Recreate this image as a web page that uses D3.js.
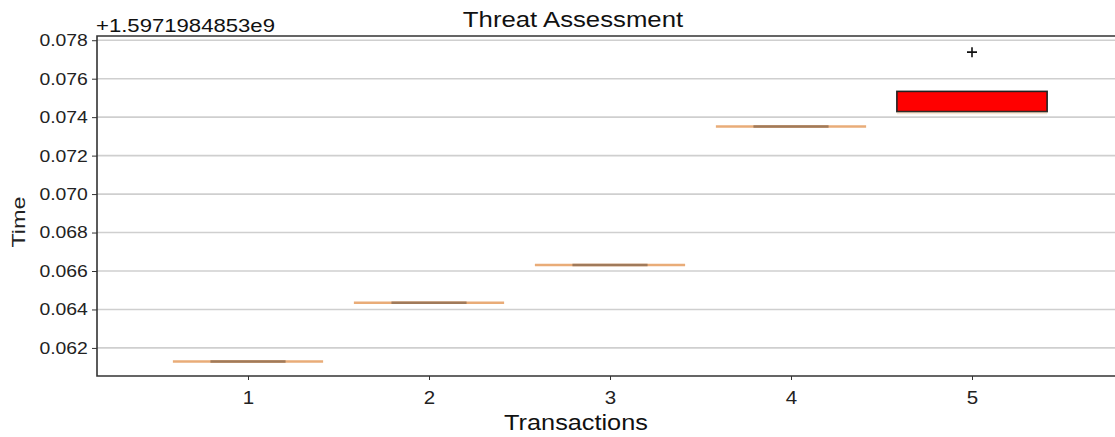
<!DOCTYPE html>
<meta charset="utf-8">
<style>
    body { margin: 0; background: #fff; }
    svg { display: block; font-family: "Liberation Sans", Arial, sans-serif; }
</style>
<body>
<div class="container"></div>
<script src="https://d3js.org/d3.v7.min.js"></script>
<script>

// values are shown relative to the offset, like matplotlib does
const offsetLabel = '+1.5971984853e9';
const transactions = [1, 2, 3, 4, 5];
const lowWhisker = [0.06130, 0.06435, 0.06631, 0.07351, 0.07429];
const q1 = [0.06130, 0.06435, 0.06631, 0.07351, 0.07429];
const median = [0.06130, 0.06435, 0.06631, 0.07351, 0.07429];
const q3 = [0.06130, 0.06435, 0.06631, 0.07351, 0.07534];
const highWhisker = [0.06130, 0.06435, 0.06631, 0.07351, 0.07534];
const outliers = [[], [], [], [], [0.07738]];
const yTicks = [0.062, 0.064, 0.066, 0.068, 0.070, 0.072, 0.074, 0.076, 0.078];

const width = 1115;
const height = 437;
const margin = { top: 36, right: 0, bottom: 61, left: 97 };

const svg = d3.select('.container')
    .append('svg')
    .attr('width', width)
    .attr('height', height);

// tick 1 sits at 248px, ticks 181px apart
const x = d3.scaleLinear()
    .domain([1 - (248 - margin.left) / 181, 1 + (width - 248) / 181])
    .range([margin.left, width]);

const y = d3.scaleLinear()
    .domain([0.06054, 0.07822])
    .range([height - margin.bottom, margin.top]);

const boxW = 0.83;

// the source picture is stretched sideways, so text gets an x-scale
const stretch = (sel, sx) => {
    sel.each(function() {
        const t = d3.select(this);
        const ax = +t.attr('x') || 0;
        t.attr('transform', `translate(${ax},0) scale(${sx},1) translate(${-ax},0)`);
    });
};

// grid
svg.append('g')
    .selectAll('line')
    .data(yTicks)
    .enter()
    .append('line')
    .attr('x1', margin.left)
    .attr('x2', width)
    .attr('y1', d => y(d))
    .attr('y2', d => y(d))
    .style('stroke', '#cfcfcf')
    .style('stroke-width', 1.6);

// axes
const yAxis = svg.append('g')
    .attr('transform', `translate(${margin.left},0)`)
    .call(d3.axisLeft(y).tickValues(yTicks).tickFormat(d3.format('.3f')).tickSize(5).tickPadding(3));
yAxis.select('.domain').remove();
yAxis.selectAll('line').style('stroke', '#333');
yAxis.selectAll('text').style('font-size', '17px').style('fill', '#222')
    .attr('transform', 'scale(1.14,1)');

const xAxis = svg.append('g')
    .attr('transform', `translate(0,${height - margin.bottom})`)
    .call(d3.axisBottom(x).tickValues(transactions).tickFormat(d3.format('d')).tickSize(4).tickPadding(11));
xAxis.select('.domain').remove();
xAxis.selectAll('line').style('stroke', '#333');
xAxis.selectAll('text').style('font-size', '18px').style('fill', '#222')
    .attr('transform', 'scale(1.14,1)');

// spines
svg.append('path')
    .attr('d', `M${width},${margin.top}H${margin.left}V${height - margin.bottom}H${width}`)
    .style('fill', 'none')
    .style('stroke', '#333')
    .style('stroke-width', 1.6);

// boxes
const boxes = svg.append('g')
    .selectAll('g')
    .data(transactions)
    .enter()
    .append('g');

boxes.append('rect')
    .attr('x', (d, i) => x(d - boxW / 2))
    .attr('width', (d, i) => x(d + boxW / 2) - x(d - boxW / 2))
    .attr('y', (d, i) => y(q3[i]))
    .attr('height', (d, i) => y(q1[i]) - y(q3[i]))
    .style('fill', (d, i) => q3[i] > q1[i] ? '#ff0000' : 'none')
    .style('stroke', '#222')
    .style('stroke-width', (d, i) => q3[i] > q1[i] ? 1.6 : 0);

// median line (full width, orange)
boxes.append('line')
    .attr('x1', (d, i) => x(d - boxW / 2))
    .attr('x2', (d, i) => x(d + boxW / 2))
    .attr('y1', (d, i) => y(median[i]) + (q3[i] > q1[i] ? 1.5 : 0))
    .attr('y2', (d, i) => y(median[i]) + (q3[i] > q1[i] ? 1.5 : 0))
    .style('stroke', '#e9ac78')
    .style('stroke-opacity', (d, i) => q3[i] > q1[i] ? 0.3 : 1)
    .style('stroke-width', 2.5);

// whisker caps (half width), overlapping the median where the box is flat
boxes.append('line')
    .attr('x1', (d, i) => x(d - boxW / 4))
    .attr('x2', (d, i) => x(d + boxW / 4))
    .attr('y1', (d, i) => y(lowWhisker[i]))
    .attr('y2', (d, i) => y(lowWhisker[i]))
    .style('stroke', '#a07a5a')
    .style('stroke-width', (d, i) => q3[i] > q1[i] ? 0 : 2.5);

// '+' fliers
boxes.selectAll('path.flier')
    .data((d, i) => outliers[i].map(v => ({ t: d, v: v })))
    .enter()
    .append('path')
    .attr('class', 'flier')
    .attr('transform', d => `translate(${x(d.t)},${y(d.v)})`)
    .attr('d', 'M-5,0H5M0,-5V5')
    .style('stroke', '#111')
    .style('stroke-width', 1.6);

// labels
svg.append('text')
    .attr('x', 573)
    .attr('y', 27)
    .attr('text-anchor', 'middle')
    .style('font-size', '22px')
    .style('fill', '#111')
    .text('Threat Assessment')
    .call(stretch, 1.17);

svg.append('text')
    .attr('x', 96)
    .attr('y', 32)
    .style('font-size', '18px')
    .style('fill', '#111')
    .text(offsetLabel)
    .call(stretch, 1.23);

svg.append('text')
    .attr('x', 576)
    .attr('y', 430)
    .attr('text-anchor', 'middle')
    .style('font-size', '22px')
    .style('fill', '#111')
    .text('Transactions')
    .call(stretch, 1.15);

svg.append('text')
    .attr('transform', `translate(25,222) rotate(-90) scale(1.3,1)`)
    .attr('text-anchor', 'middle')
    .style('font-size', '18px')
    .style('fill', '#222')
    .text('Time');

</script>
</body>
